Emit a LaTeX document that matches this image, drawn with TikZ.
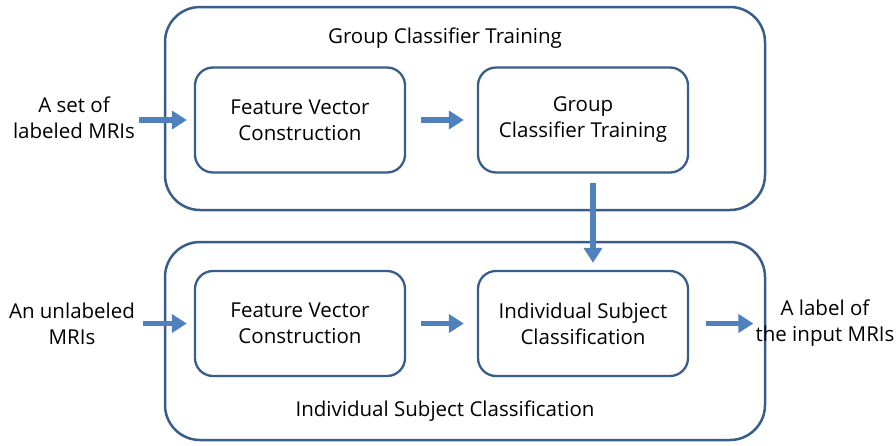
\documentclass[tikz,border=0pt]{standalone}
\usepackage{fontspec}
\setmainfont{Open Sans}
\usepackage{tikz}
\usetikzlibrary{arrows.meta,positioning}
\definecolor{edge}{RGB}{56,93,138}
\definecolor{flow}{RGB}{79,129,189}

\begin{document}
\begin{tikzpicture}[x=1pt,y=-1pt,
  txt/.style={align=center,font=\fontsize{20.5}{26}\selectfont,inner sep=0pt},
  stage/.style={draw=edge,line width=2.5pt,rounded corners=35pt,
     minimum width=600pt,inner sep=0pt},
  box/.style={txt,draw=edge,line width=2.3pt,rounded corners=18pt,
     minimum width=210pt,minimum height=105pt},
  arr/.style={-{Triangle[length=15pt,width=18pt]},line width=5.5pt,draw=flow}]
\useasboundingbox (0,0) rectangle (896,445);
\node[stage,minimum height=203pt] (train) at (465,108.5) {};
\node[stage,minimum height=198pt] (indiv) at (465,341) {};
\node[txt] (trtitle) at (445,38) {Group Classifier Training};
\node[txt] (intitle) at (445,411) {Individual Subject Classification};
\node[box] (fvc1) at (300,120) {Feature Vector\\Construction};
\node[box] (gct) at (583,120) {Group\\Classifier Training};
\node[box] (fvc2) at (300,323.5) {Feature Vector\\Construction};
\node[box] (isc) at (583,323.5) {Individual Subject\\Classification};
\node[txt] (lab) at (74,118) {A set of\\labeled MRIs};
\node[txt] (unlab) at (72,323.5) {An unlabeled\\MRIs};
\node[txt] (out) at (825,323.5) {A label of\\the input MRIs};
\draw[arr,shorten <=4pt,shorten >=7pt] (lab.east |- fvc1)--(fvc1);
\draw[arr,shorten <=15pt,shorten >=13pt] (fvc1)--(gct);
\draw[arr,shorten <=9pt,shorten >=7pt] ([xshift=10pt]gct.south)--([xshift=10pt]isc.north);
\draw[arr,shorten <=8pt,shorten >=7pt] (unlab)--(fvc2);
\draw[arr,shorten <=15pt,shorten >=13pt] (fvc2)--(isc);
\draw[arr,shorten <=17pt,shorten >=2pt] (isc)--(out);
\end{tikzpicture}
\end{document}
